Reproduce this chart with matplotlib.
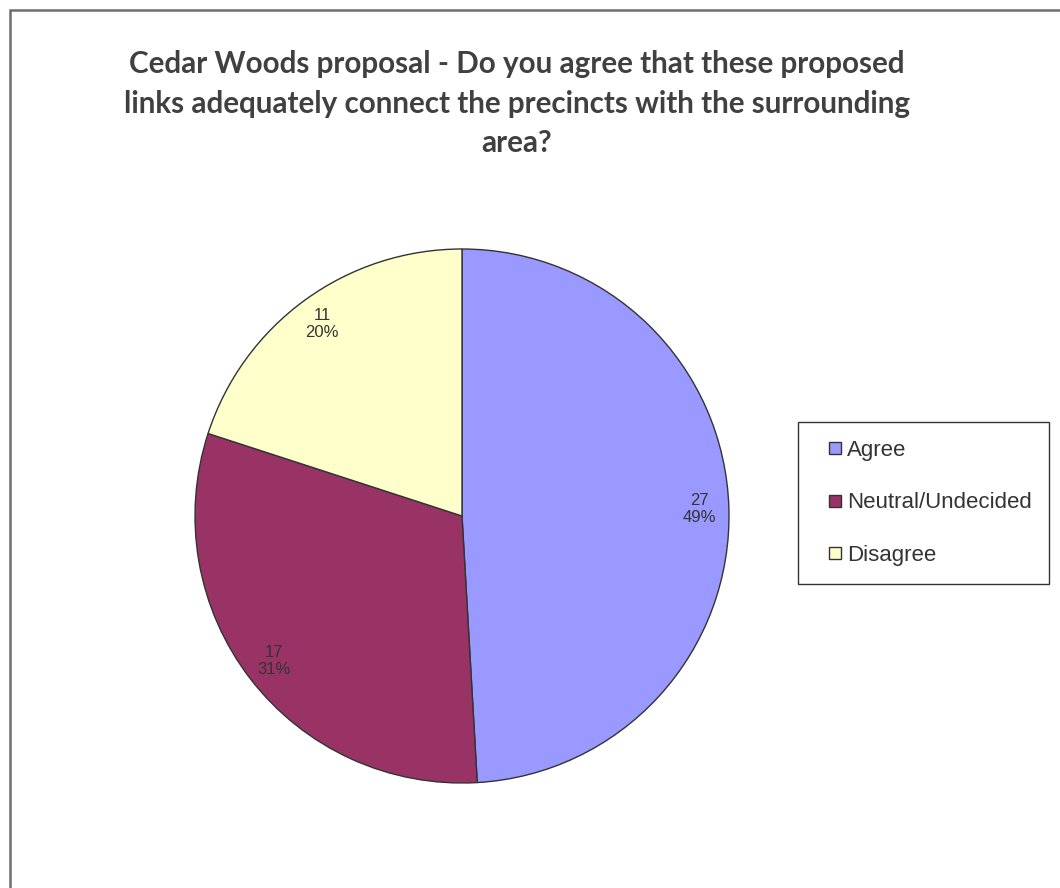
import matplotlib
matplotlib.use("Agg")
import matplotlib.pyplot as plt
import matplotlib.patches as mpatches
from matplotlib.lines import Line2D

# survey answers
labels = ["Agree", "Neutral/Undecided", "Disagree"]
counts = [27, 17, 11]
slice_colors = ["#9999FF", "#993366", "#FFFFCC"]
title_lines = ["Cedar Woods proposal - Do you agree that these proposed",
               "links adequately connect the precincts with the surrounding",
               "area?"]

total = sum(counts)
W, H = 1060, 888
fig = plt.figure(figsize=(W / 100, H / 100), dpi=100)

# pie axes: centre (462, 516), radius 267 px
cx, cy, r = 462, 516, 267
ax = fig.add_axes([(cx - r) / W, (H - cy - r) / H, 2 * r / W, 2 * r / H])


def fmt(pct):
    n = int(round(pct * total / 100.0))
    return f"{n}\n{pct:.0f}%"


wedges, texts, autotexts = ax.pie(
    counts, colors=slice_colors, startangle=90, counterclock=False,
    autopct=fmt, pctdistance=0.89, radius=1,
    wedgeprops=dict(edgecolor="#333333", linewidth=1.0),
    textprops=dict(fontsize=12, family="Liberation Sans", color="#333333"))
ax.set_xlim(-1, 1)
ax.set_ylim(-1, 1)
ax.set_aspect("equal")
ax.axis("off")

# title, one line at a time (baselines 73, 112, 152 px from top)
for i, line in enumerate(title_lines):
    fig.text(517 / W, 1 - (73 + 39.5 * i) / H, line, ha="center", va="baseline",
             fontsize=21.3, fontweight="bold", family="Lato", color="#404040")

handles = [Line2D([], [], linestyle="None", marker="s", markersize=8.5,
                  markerfacecolor=c, markeredgecolor="#333333",
                  markeredgewidth=1.0, label=l)
           for c, l in zip(slice_colors, labels)]
leg = fig.legend(handles=handles, loc="upper left",
                 bbox_to_anchor=(798 / W, 1 - 422 / H),
                 prop=dict(family="Liberation Sans", size=16),
                 frameon=True, fancybox=False, edgecolor="#000000",
                 handlelength=1.7, handletextpad=-0.3,
                 labelspacing=1.42, borderpad=0.8, borderaxespad=0)
leg.get_frame().set_linewidth(1.0)
for t in leg.get_texts():
    t.set_color("#333333")

# outer chart border (left and top edges visible)
fig.add_artist(mpatches.Rectangle((10 / W, -0.1), 1.2, 1 - 10 / H + 0.1,
                                  transform=fig.transFigure, fill=False,
                                  edgecolor="#6e6e6e", linewidth=1.8))

fig.savefig("out.png", dpi=100)
